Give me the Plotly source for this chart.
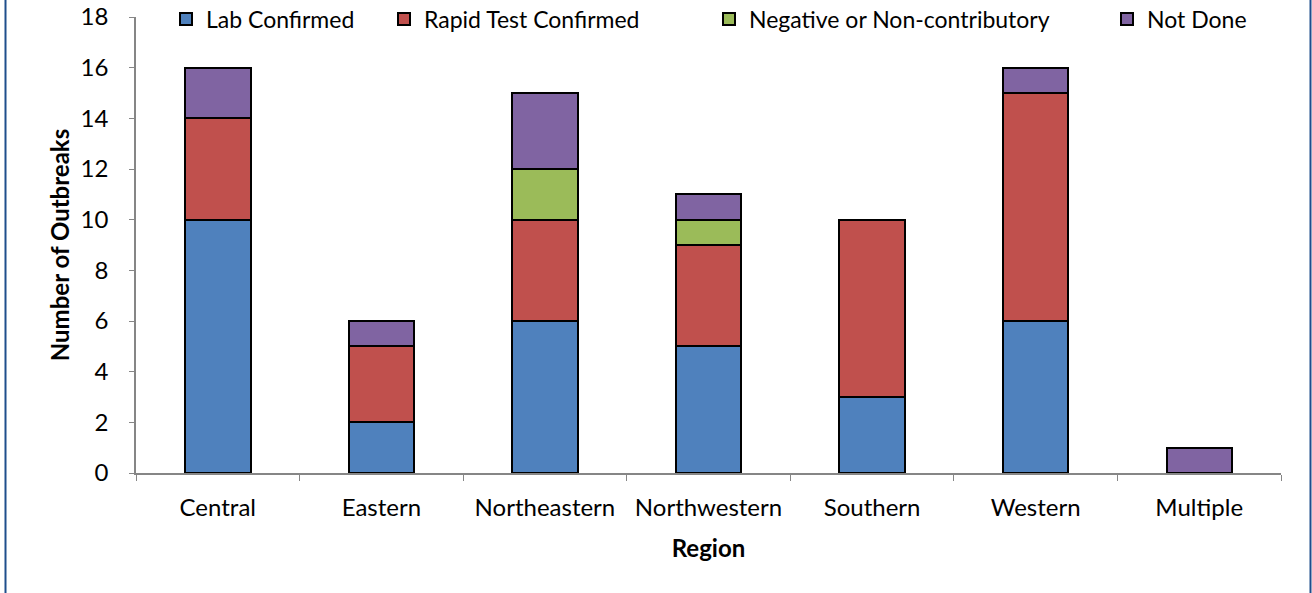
import plotly.graph_objects as go

# Data
regions = ["Central", "Eastern", "Northeastern", "Northwestern", "Southern", "Western", "Multiple"]
lab_confirmed = [10, 2, 6, 5, 3, 6, 0]
rapid_confirmed = [4, 3, 4, 4, 7, 9, 0]
negative = [0, 0, 2, 1, 0, 0, 0]
not_done = [2, 1, 3, 1, 0, 1, 1]

series_names = ["Lab Confirmed", "Rapid Test Confirmed", "Negative or Non-contributory", "Not Done"]
series_values = [lab_confirmed, rapid_confirmed, negative, not_done]
colors = ["#4F81BD", "#C0504D", "#9BBB59", "#8064A2"]

FONT = "Lato, 'Open Sans', sans-serif"

# plot area in pixels (for placing legends / frame lines)
W, H = 1312, 593
L, R, T, B = 136, 31, 17, 120
PW = W - L - R
PH = H - T - B

def px_x(px):
    return (px - L) / PW

def px_y(py):
    return (H - B - py) / PH

legend_px = [166, 384, 709, 1107]
legend_ids = ["legend", "legend2", "legend3", "legend4"]

fig = go.Figure()
for name, vals, col, lid in zip(series_names, series_values, colors, legend_ids):
    fig.add_trace(go.Bar(
        x=regions, y=vals, name=name,
        marker=dict(color=col, line=dict(color="#000000", width=2)),
        legend=lid,
    ))

legend_layout = {}
for lid, lx in zip(legend_ids, legend_px):
    legend_layout[lid] = dict(
        x=px_x(lx), y=px_y(19), xanchor="left", yanchor="middle",
        orientation="h", bgcolor="rgba(0,0,0,0)",
        font=dict(family=FONT, size=23, color="#000000"),
        itemclick=False, itemdoubleclick=False,
    )

# frame lines at the left and right edge of the picture
frame_lines = []
for fx in (5.5, 1310.5):
    frame_lines.append(dict(
        type="line", xref="paper", yref="paper",
        x0=px_x(fx), x1=px_x(fx), y0=px_y(H), y1=px_y(0),
        line=dict(color="#1F4E8C", width=2),
    ))

fig.update_layout(
    barmode="stack",
    bargap=0.6,
    width=W, height=H,
    margin=dict(l=L, r=R, t=T, b=B, autoexpand=False),
    paper_bgcolor="white",
    plot_bgcolor="white",
    font=dict(family=FONT, size=24, color="#000000"),
    showlegend=True,
    hovermode=False,
    **legend_layout,
    xaxis=dict(
        title=dict(text="<b>Region</b>", font=dict(family=FONT, size=24), standoff=21),
        showgrid=False, zeroline=False,
        showline=True, linecolor="#868686", linewidth=1.5,
        ticks="outside", tickson="boundaries", ticklen=6, tickcolor="#868686",
        tickfont=dict(family=FONT, size=24),
        ticklabelstandoff=12,
    ),
    yaxis=dict(
        title=dict(text="<b>Number of Outbreaks</b>", font=dict(family=FONT, size=24), standoff=4),
        range=[0, 18], dtick=2,
        showgrid=False, zeroline=False,
        showline=True, linecolor="#868686", linewidth=1.5,
        ticks="outside", ticklen=5, tickcolor="#868686",
        tickfont=dict(family=FONT, size=24),
        ticklabelstandoff=16,
    ),
    shapes=frame_lines,
)

# the page body has a default 8px margin; drop it so the figure sits at the corner
fig.write_html(
    "out.html",
    config={"displayModeBar": False},
    post_script="document.body.style.margin='0';document.body.style.overflow='hidden';"
                "document.documentElement.style.overflow='hidden';"
                "document.body.style.background='white';",
)
